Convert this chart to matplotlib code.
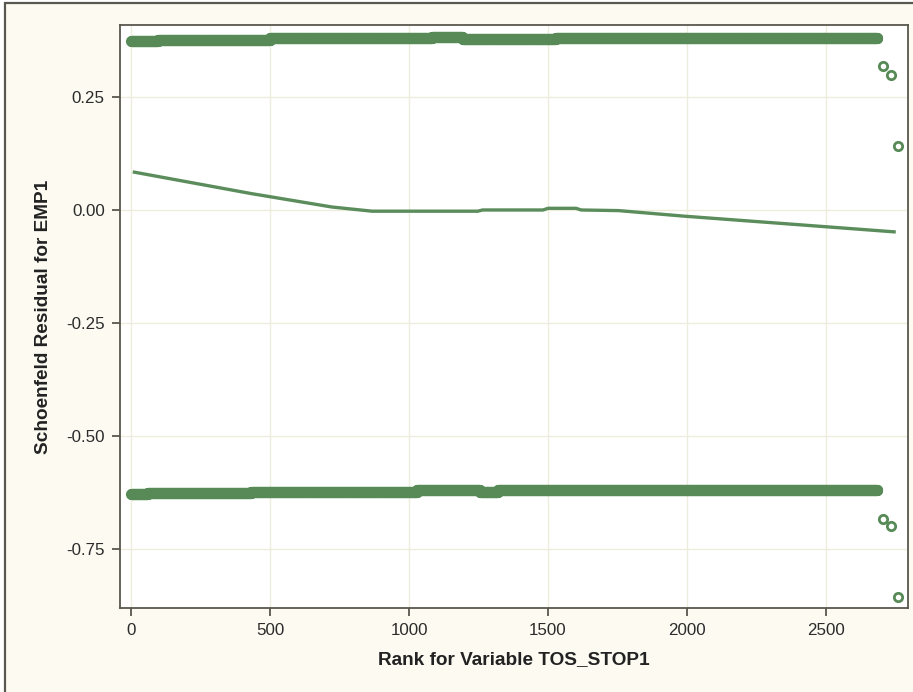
import matplotlib
matplotlib.use('Agg')
import matplotlib.pyplot as plt
from matplotlib.patches import Rectangle
import numpy as np

plt.rcParams.update({
    'font.family': ['Liberation Sans', 'DejaVu Sans'],
    'axes.unicode_minus': False,
})

# residual bands, read as constant runs over the rank axis
UPPER_START = [1, 97, 500, 1083, 1193, 1528]
UPPER_END = [96, 499, 1082, 1192, 1527, 2684]
UPPER_LEVEL = [0.374, 0.377, 0.381, 0.3835, 0.380, 0.382]

LOWER_START = [1, 60, 432, 1029, 1255, 1320]
LOWER_END = [59, 431, 1028, 1254, 1319, 2684]
LOWER_LEVEL = [-0.628, -0.6255, -0.6225, -0.620, -0.6225, -0.620]

# the few separated points at the far right
OUTLIER_RANK = [2704, 2733, 2760]
OUTLIER_UPPER = [0.319, 0.300, 0.142]
OUTLIER_LOWER = [-0.684, -0.698, -0.855]

# smoothed curve
LINE_RANK = [6, 432, 722, 867, 1247, 1265, 1482, 1500, 1601, 1619, 1754,
             1990, 2317, 2643, 2751]
LINE_VALUE = [0.085, 0.037, 0.0073, -0.002, -0.002, 0.0007, 0.0007, 0.0044,
              0.0044, 0.0007, -0.0007, -0.013, -0.028, -0.043, -0.048]

X_TICKS = [0, 500, 1000, 1500, 2000, 2500]
Y_TICKS = [0.25, 0.0, -0.25, -0.50, -0.75]

GREEN = '#578a57'
LINE_GREEN = '#5b8c5b'
FRAME = '#5a574f'
CREAM = '#fdfaf2'
GRID = '#eeecdd'


def band(starts, ends, levels):
    xs, ys = [], []
    for s, e, v in zip(starts, ends, levels):
        r = np.arange(s, e + 1)
        xs.append(r)
        ys.append(np.full(len(r), v))
    return np.concatenate(xs), np.concatenate(ys)


fig = plt.figure(figsize=(9.13, 6.92), dpi=100, facecolor='white')
fig.patches.append(Rectangle((5 / 913, -0.05), 1.1, 1.05 - 3 / 692,
                             transform=fig.transFigure, facecolor=CREAM,
                             edgecolor=FRAME, linewidth=1.6, zorder=-10))

ax = fig.add_axes([120 / 913, 1 - 608 / 692, 788 / 913, 583 / 692])
ax.set_zorder(1)
ax.set_facecolor('white')

ux, uy = band(UPPER_START, UPPER_END, UPPER_LEVEL)
lx, ly = band(LOWER_START, LOWER_END, LOWER_LEVEL)
px = np.concatenate([ux, OUTLIER_RANK, lx, OUTLIER_RANK])
py = np.concatenate([uy, OUTLIER_UPPER, ly, OUTLIER_LOWER])
ax.plot(px, py, linestyle='none', marker='o', ms=6.0, mew=2.0,
        mfc='none', mec=GREEN, zorder=3)
ax.plot(LINE_RANK, LINE_VALUE, color=LINE_GREEN, lw=2.4, zorder=4,
        solid_capstyle='butt')

ax.set_xlim(-40, 2795)
ax.set_ylim(-0.88, 0.41)
ax.set_xticks(X_TICKS)
ax.set_yticks(Y_TICKS)
ax.set_yticklabels([f'{v:.2f}' for v in Y_TICKS])
ax.grid(True, color=GRID, linewidth=1.0, zorder=0)
ax.set_axisbelow(True)

for sp in ax.spines.values():
    sp.set_color(FRAME)
    sp.set_linewidth(1.3)
ax.tick_params(axis='both', direction='out', length=6, width=1.3,
               color=FRAME, labelsize=12.2, labelcolor='#2b2b2b', pad=5)

ax.set_xlabel('Rank for Variable TOS_STOP1', fontsize=13.7,
              fontweight='bold', color='#222222', labelpad=9)
ax.set_ylabel('Schoenfeld Residual for EMP1', fontsize=13.7,
              fontweight='bold', color='#222222', labelpad=10)

fig.savefig('out.png', dpi=100, facecolor=fig.get_facecolor())
